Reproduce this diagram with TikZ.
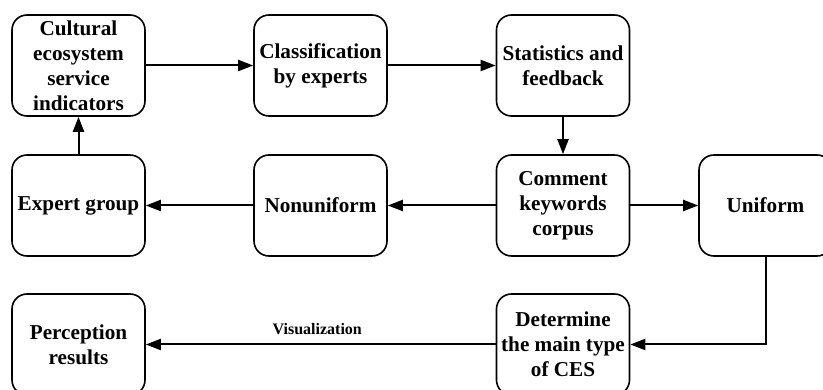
\documentclass[tikz,border=0pt]{standalone}
\usepackage{fontspec}
\setmainfont{Liberation Serif}
\usetikzlibrary{arrows.meta}
\begin{document}
\begin{tikzpicture}[x=1pt,y=1pt,
  box/.style={draw,line width=1.6pt,rounded corners=15pt,minimum width=133pt,minimum height=101pt,
    align=center,font=\fontsize{21.2}{25}\selectfont\bfseries,inner sep=0pt},
  arr/.style={line width=2pt,-{Triangle[length=15pt,width=11pt]}}]
\useasboundingbox (0,0) rectangle (823,-390);
\node[box] (ind) at (78.5,-65.5) {Cultural\\ecosystem\\service\\indicators};
\node[box] (cls) at (320.5,-65.5) {Classification\\by experts};
\node[box] (sta) at (563,-65.5) {Statistics and\\feedback};
\node[box] (exp) at (78.5,-205.5) {Expert group};
\node[box] (non) at (320.5,-205.5) {Nonuniform};
\node[box] (com) at (563,-205.5) {Comment\\keywords\\corpus};
\node[box] (uni) at (765.5,-205.5) {Uniform};
\node[box] (per) at (78.5,-344.5) {Perception\\results};
\node[box] (det) at (563,-344.5) {Determine\\the main type\\of CES};
\draw[arr] (ind) -- (cls);
\draw[arr] (cls) -- (sta);
\draw[arr] (sta) -- (com);
\draw[arr] (com) -- (non);
\draw[arr] (non) -- (exp);
\draw[arr] (exp) -- (ind);
\draw[arr] (com) -- (uni);
\draw[arr] (uni.south) |- (det.east);
\draw[arr] (det) -- node[pos=0.51,above=5pt,font=\fontsize{16}{18}\selectfont\bfseries]{Visualization} (per);
\end{tikzpicture}
\end{document}
